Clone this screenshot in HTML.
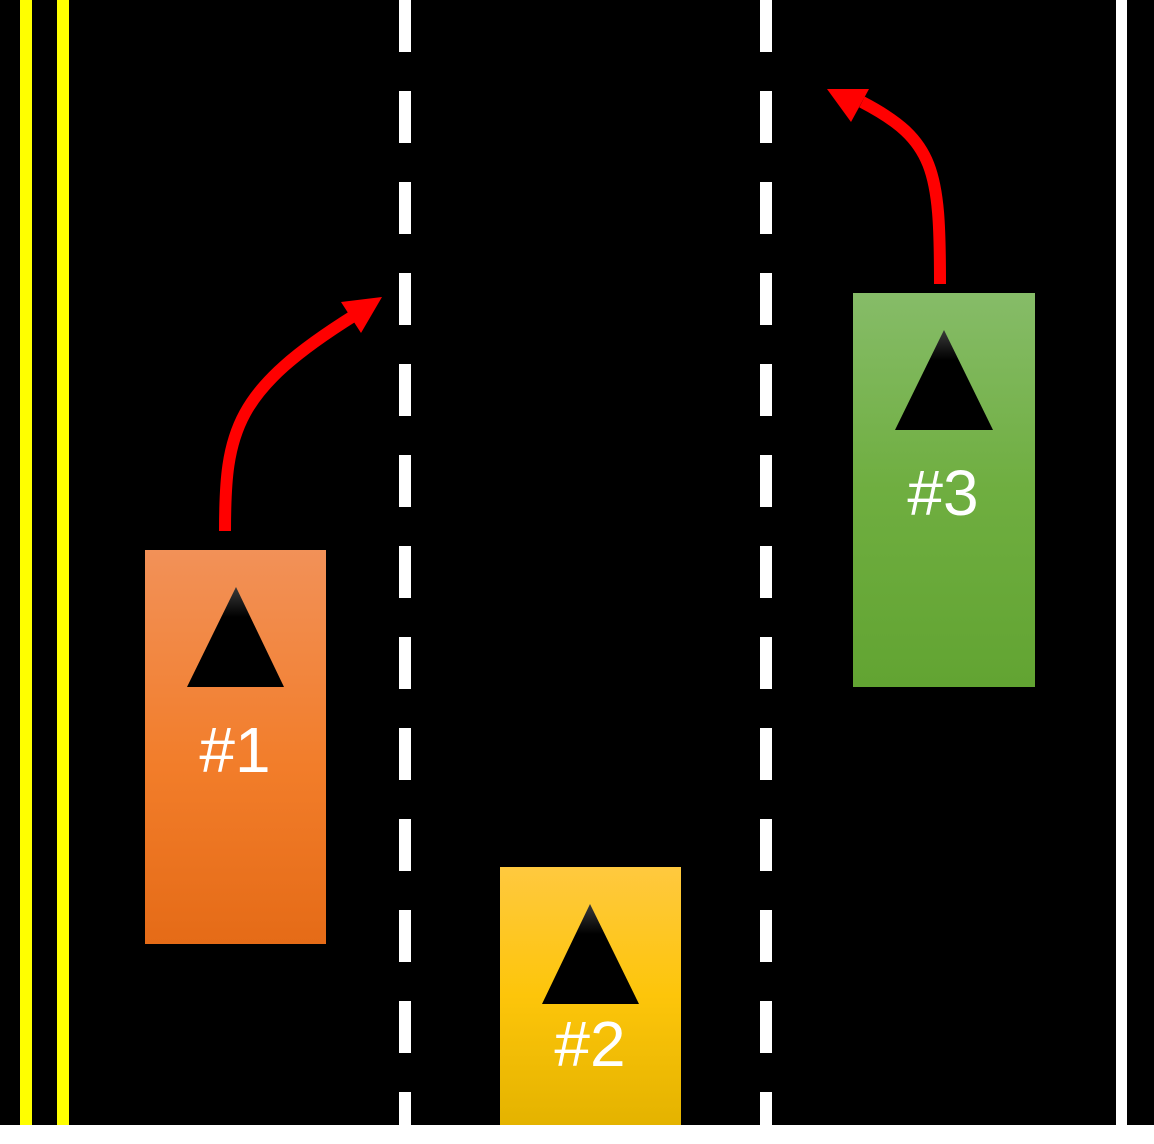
<!DOCTYPE html>
<html><head><meta charset="utf-8"><style>
html,body{margin:0;padding:0;background:#fff;}
svg{display:block}
</style></head><body>
<svg width="1154" height="1144" viewBox="0 0 1154 1144" xmlns="http://www.w3.org/2000/svg">
<defs>
<linearGradient id="g1" x1="0" y1="0" x2="0" y2="1"><stop offset="0" stop-color="#f29158"/><stop offset="0.55" stop-color="#f27d2a"/><stop offset="1" stop-color="#e56b17"/></linearGradient>
<linearGradient id="g2" x1="0" y1="0" x2="0" y2="1"><stop offset="0" stop-color="#ffc93f"/><stop offset="0.5" stop-color="#fdc50a"/><stop offset="1" stop-color="#e4b300"/></linearGradient>
<linearGradient id="g3" x1="0" y1="0" x2="0" y2="1"><stop offset="0" stop-color="#86bc68"/><stop offset="0.5" stop-color="#6fae40"/><stop offset="1" stop-color="#62a432"/></linearGradient>
<linearGradient id="tg" x1="0" y1="0" x2="0" y2="1"><stop offset="0" stop-color="#3a3a3a"/><stop offset="0.3" stop-color="#000"/><stop offset="1" stop-color="#000"/></linearGradient>
</defs>
<rect x="0" y="0" width="1154" height="1125" fill="#000"/>
<rect x="20" y="0" width="12" height="1125" fill="#ff0"/>
<rect x="57" y="0" width="12" height="1125" fill="#ff0"/>
<rect x="1116" y="0" width="11" height="1125" fill="#fff"/>
<g stroke="#fff" stroke-width="12" stroke-dasharray="52 39">
<line x1="405" y1="0" x2="405" y2="1125"/>
<line x1="766" y1="0" x2="766" y2="1125"/>
</g>
<!-- arrows -->
<path d="M225 531 C225 430 235 390 355 315" stroke="#f00" stroke-width="12" fill="none"/>
<polygon points="382,297 341,302 361,333" fill="#f00"/>
<path d="M940 284 C940 170 935 140 862 102" stroke="#f00" stroke-width="12" fill="none"/>
<polygon points="827,89 869,89 851,122" fill="#f00"/>
<!-- cars -->
<rect x="145" y="550" width="181" height="394" fill="url(#g1)"/>
<polygon points="236,587 187,687 284,687" fill="url(#tg)"/>
<text x="235" y="772" font-family="Liberation Sans, sans-serif" font-size="64" fill="#fff" text-anchor="middle">#1</text>
<rect x="500" y="867" width="181" height="258" fill="url(#g2)"/>
<polygon points="590,904 542,1004 639,1004" fill="url(#tg)"/>
<text x="590" y="1066" font-family="Liberation Sans, sans-serif" font-size="64" fill="#fff" text-anchor="middle">#2</text>
<rect x="853" y="293" width="182" height="394" fill="url(#g3)"/>
<polygon points="944,330 895,430 993,430" fill="url(#tg)"/>
<text x="943" y="515" font-family="Liberation Sans, sans-serif" font-size="64" fill="#fff" text-anchor="middle">#3</text>
</svg>
</body></html>
